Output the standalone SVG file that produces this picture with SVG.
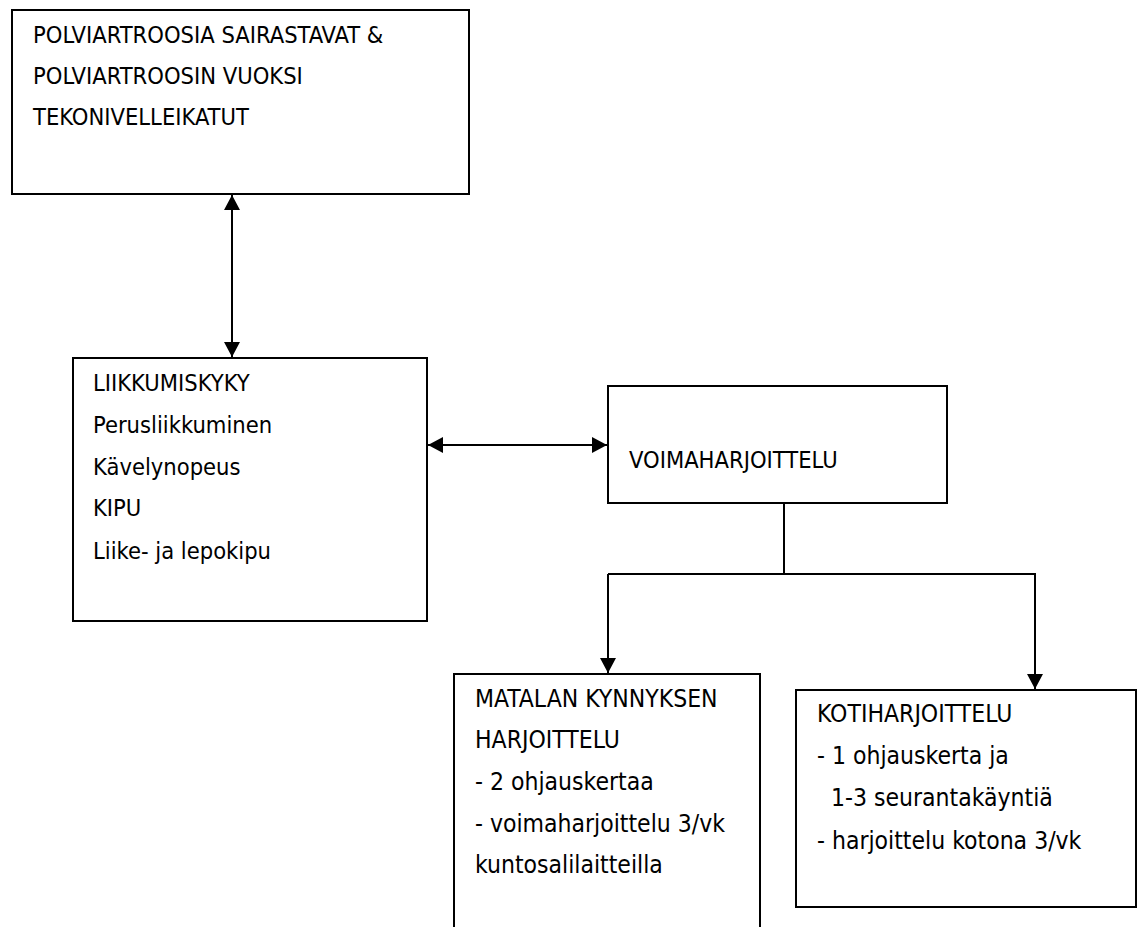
<svg xmlns="http://www.w3.org/2000/svg" width="1144" height="927" viewBox="0 0 1144 927">
<defs>
<style>
.box{fill:#fff;stroke:#000;stroke-width:2}
.t{font-family:'DejaVu Sans Condensed','DejaVu Sans',sans-serif;font-stretch:condensed;font-size:23.5px;fill:#000}
.c{font-family:'DejaVu Sans Condensed','DejaVu Sans',sans-serif;font-stretch:condensed;font-size:24.5px;fill:#000}
.ln{fill:none;stroke:#000;stroke-width:2}
</style>
<marker id="a" viewBox="0 0 15 16" refX="15" refY="8" markerWidth="15" markerHeight="16" markerUnits="userSpaceOnUse" orient="auto-start-reverse">
<path d="M0,0 L15,8 L0,16 z" fill="#000"/>
</marker>
</defs>
<rect width="1144" height="927" fill="#fff"/>
<g id="connectors">
<line class="ln" x1="232" y1="195" x2="232" y2="357" marker-start="url(#a)" marker-end="url(#a)"/>
<line class="ln" x1="428" y1="445" x2="607" y2="445" marker-start="url(#a)" marker-end="url(#a)"/>
<line class="ln" x1="784" y1="504" x2="784" y2="574"/>
<polyline class="ln" points="608,574 1035,574 1035,689" marker-end="url(#a)"/>
<line class="ln" x1="608" y1="574" x2="608" y2="673" marker-end="url(#a)"/>
</g>
<g id="n1">
<rect class="box" x="12" y="10" width="457" height="184"/>
<text class="t" x="33" y="43">POLVIARTROOSIA SAIRASTAVAT &amp;</text>
<text class="t" x="33" y="84">POLVIARTROOSIN VUOKSI</text>
<text class="t" x="33" y="125">TEKONIVELLEIKATUT</text>
</g>
<g id="n2">
<rect class="box" x="73" y="358" width="354" height="263"/>
<text class="t" x="93" y="391">LIIKKUMISKYKY</text>
<text class="t" x="93" y="433">Perusliikkuminen</text>
<text class="t" x="93" y="475">Kävelynopeus</text>
<text class="t" x="93" y="516">KIPU</text>
<text class="t" x="93" y="559">Liike- ja lepokipu</text>
</g>
<g id="n3">
<rect class="box" x="608" y="386" width="339" height="117"/>
<text class="t" x="629" y="468">VOIMAHARJOITTELU</text>
</g>
<g id="n4">
<rect class="box" x="454" y="674" width="306" height="280"/>
<text class="c" x="475" y="707">MATALAN KYNNYKSEN</text>
<text class="c" x="475" y="748">HARJOITTELU</text>
<text class="c" x="475" y="790">- 2 ohjauskertaa</text>
<text class="c" x="475" y="832">- voimaharjoittelu 3/vk</text>
<text class="c" x="475" y="873">kuntosalilaitteilla</text>
</g>
<g id="n5">
<rect class="box" x="796" y="690" width="340" height="217"/>
<text class="c" x="817" y="722">KOTIHARJOITTELU</text>
<text class="c" x="817" y="764">- 1 ohjauskerta ja</text>
<text class="c" x="831" y="806">1-3 seurantakäyntiä</text>
<text class="c" x="817" y="849">- harjoittelu kotona 3/vk</text>
</g>
</svg>
